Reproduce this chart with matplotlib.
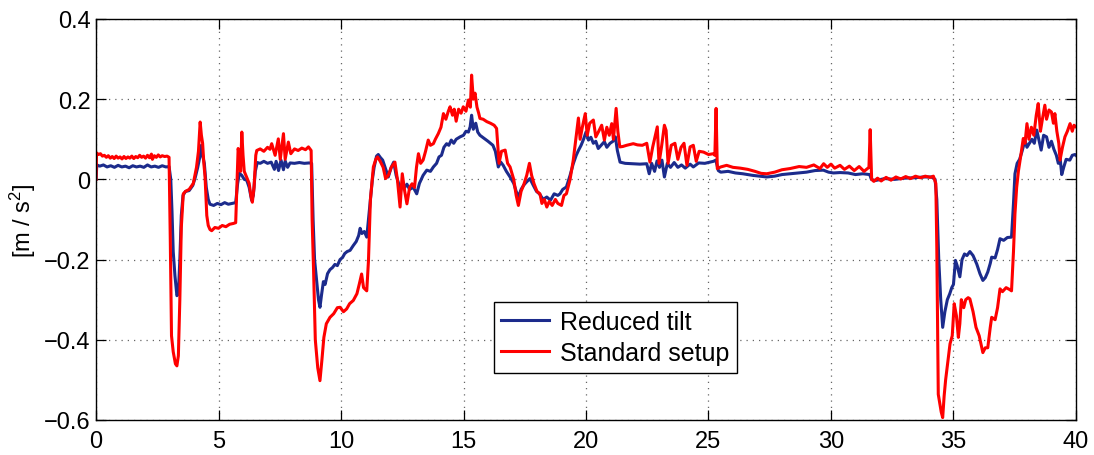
import numpy as np
import matplotlib
matplotlib.use('Agg')
import matplotlib.pyplot as plt
from matplotlib.ticker import MultipleLocator, FuncFormatter

plt.rcParams['font.family'] = ['Liberation Sans', 'DejaVu Sans']
plt.rcParams['mathtext.default'] = 'regular'

# Reduced tilt: time [s] and acceleration [m/s^2]
t_reduced = [
    0.00, 0.03, 0.15, 0.30, 0.45, 0.60, 0.75, 0.90, 1.05, 1.20, 1.35, 1.50, 1.65, 1.80, 1.95,
    2.10, 2.25, 2.40, 2.55, 2.70, 2.85, 2.98, 3.05, 3.10, 3.15, 3.22, 3.30, 3.36, 3.42, 3.48,
    3.55, 3.65, 3.80, 3.95, 4.05, 4.15, 4.25, 4.30, 4.35, 4.42, 4.50, 4.58, 4.65, 4.80, 4.95,
    5.10, 5.25, 5.40, 5.55, 5.70, 5.78, 5.85, 5.95, 6.05, 6.15, 6.25, 6.35, 6.42, 6.50, 6.58,
    6.70, 6.85, 7.00, 7.15, 7.28, 7.35, 7.45, 7.55, 7.65, 7.72, 7.82, 7.92, 8.10, 8.30, 8.50,
    8.70, 8.80, 8.86, 8.92, 9.00, 9.08, 9.14, 9.20, 9.28, 9.35, 9.45, 9.55, 9.65, 9.75, 9.85,
    9.96, 10.06, 10.15, 10.25, 10.37, 10.50, 10.62, 10.72, 10.78, 10.85, 10.95, 11.05, 11.12,
    11.20, 11.28, 11.35, 11.45, 11.52, 11.60, 11.70, 11.80, 11.93, 12.05, 12.15, 12.25, 12.35,
    12.41, 12.50, 12.60, 12.69, 12.80, 12.95, 13.09, 13.20, 13.35, 13.50, 13.65, 13.77, 13.90,
    14.00, 14.10, 14.20, 14.31, 14.40, 14.50, 14.60, 14.70, 14.86, 15.00, 15.10, 15.20, 15.27,
    15.33, 15.40, 15.50, 15.58, 15.67, 15.85, 16.00, 16.20, 16.30, 16.42, 16.52, 16.62, 16.75,
    16.90, 17.05, 17.15, 17.24, 17.35, 17.45, 17.55, 17.71, 17.85, 17.98, 18.10, 18.25, 18.40,
    18.55, 18.70, 18.85, 18.94, 19.05, 19.20, 19.35, 19.48, 19.60, 19.69, 19.80, 19.90, 20.00,
    20.10, 20.20, 20.30, 20.40, 20.50, 20.62, 20.75, 20.85, 20.98, 21.10, 21.20, 21.28, 21.39,
    21.60, 21.90, 22.20, 22.48, 22.58, 22.68, 22.80, 22.90, 23.00, 23.10, 23.20, 23.32, 23.45,
    23.60, 23.75, 23.90, 24.05, 24.25, 24.38, 24.60, 24.85, 25.05, 25.20, 25.30, 25.40, 25.50,
    25.80, 26.10, 26.40, 26.80, 27.10, 27.38, 27.70, 28.00, 28.33, 28.70, 29.00, 29.35, 29.69,
    29.90, 30.10, 30.37, 30.70, 31.00, 31.30, 31.58, 31.65, 31.80, 32.20, 32.60, 33.00, 33.40,
    33.80, 34.10, 34.25, 34.32, 34.40, 34.48, 34.56, 34.65, 34.75, 34.85, 34.93, 35.00, 35.08,
    35.15, 35.26, 35.35, 35.45, 35.55, 35.67, 35.80, 35.95, 36.08, 36.20, 36.30, 36.40, 36.50,
    36.56, 36.70, 36.80, 36.90, 37.05, 37.20, 37.37, 37.45, 37.51, 37.60, 37.70, 37.80, 37.92,
    38.00, 38.10, 38.20, 38.30, 38.40, 38.50, 38.58, 38.68, 38.80, 38.90, 39.00, 39.10, 39.20,
    39.28, 39.35, 39.42, 39.50, 39.60, 39.75, 39.85, 39.96, 40.00,
]
a_reduced = [
    0.000, 0.036, 0.033, 0.036, 0.031, 0.034, 0.030, 0.035, 0.031, 0.033, 0.029, 0.034, 0.031, 0.033, 0.030,
    0.036, 0.031, 0.033, 0.030, 0.034, 0.031, 0.032, 0.000, -0.080, -0.180, -0.240, -0.290, -0.285, -0.200, -0.090,
    -0.040, -0.030, -0.028, -0.015, 0.005, 0.030, 0.060, 0.085, 0.060, 0.040, -0.020, -0.050, -0.062, -0.065, -0.060,
    -0.063, -0.058, -0.062, -0.060, -0.058, -0.010, 0.015, 0.010, 0.000, -0.002, -0.020, -0.052, -0.040, 0.020, 0.042,
    0.040, 0.045, 0.040, 0.043, 0.025, 0.045, 0.022, 0.048, 0.024, 0.046, 0.030, 0.041, 0.040, 0.042, 0.040,
    0.041, 0.040, -0.100, -0.200, -0.250, -0.300, -0.319, -0.290, -0.255, -0.262, -0.235, -0.225, -0.220, -0.212, -0.215,
    -0.200, -0.195, -0.185, -0.180, -0.177, -0.165, -0.155, -0.140, -0.122, -0.135, -0.130, -0.144, -0.100,
    -0.050, 0.000, 0.030, 0.058, 0.062, 0.055, 0.048, 0.030, 0.006, 0.030, 0.043, 0.010, -0.010,
    -0.036, -0.010, -0.020, -0.012, -0.025, -0.020, -0.036, -0.010, 0.010, 0.023, 0.020, 0.031, 0.040,
    0.056, 0.060, 0.080, 0.089, 0.085, 0.098, 0.090, 0.100, 0.106, 0.110, 0.120, 0.118, 0.131,
    0.160, 0.125, 0.140, 0.118, 0.110, 0.102, 0.095, 0.085, 0.070, 0.031, 0.043, 0.035, 0.020,
    0.006, -0.010, -0.030, -0.044, -0.025, -0.015, -0.008, 0.002, -0.015, -0.030, -0.036, -0.050, -0.044,
    -0.052, -0.036, -0.040, -0.036, -0.025, -0.019, 0.010, 0.039, 0.060, 0.072, 0.085, 0.100, 0.118,
    0.098, 0.105, 0.090, 0.095, 0.077, 0.085, 0.094, 0.080, 0.090, 0.095, 0.106, 0.072, 0.043,
    0.040, 0.039, 0.038, 0.039, 0.014, 0.040, 0.020, 0.046, 0.030, 0.048, 0.006, 0.040, 0.030,
    0.042, 0.030, 0.036, 0.028, 0.038, 0.031, 0.041, 0.040, 0.043, 0.045, 0.048, 0.022, 0.018,
    0.020, 0.016, 0.014, 0.010, 0.008, 0.006, 0.008, 0.012, 0.014, 0.016, 0.018, 0.022, 0.023,
    0.018, 0.016, 0.017, 0.016, 0.012, 0.014, 0.012, 0.000, -0.003, 0.002, 0.000, 0.003, 0.004,
    0.006, 0.006, 0.000, -0.050, -0.200, -0.300, -0.369, -0.330, -0.300, -0.285, -0.270, -0.262, -0.202,
    -0.215, -0.243, -0.200, -0.186, -0.190, -0.180, -0.190, -0.211, -0.235, -0.252, -0.245, -0.231, -0.210,
    -0.194, -0.196, -0.175, -0.148, -0.152, -0.145, -0.144, -0.060, 0.014, 0.040, 0.050, 0.070, 0.098,
    0.080, 0.090, 0.100, 0.090, 0.123, 0.095, 0.073, 0.110, 0.106, 0.080, 0.095, 0.075, 0.060,
    0.040, 0.055, 0.012, 0.030, 0.050, 0.048, 0.060, 0.062, 0.060,
]

# Standard setup
t_standard = [
    0.00, 0.02, 0.10, 0.18, 0.26, 0.34, 0.42, 0.50, 0.58, 0.66, 0.74, 0.82, 0.90, 0.98, 1.06,
    1.14, 1.22, 1.30, 1.38, 1.46, 1.54, 1.62, 1.70, 1.78, 1.86, 1.94, 2.02, 2.10, 2.18, 2.26,
    2.30, 2.38, 2.46, 2.54, 2.62, 2.70, 2.80, 2.90, 2.98, 3.03, 3.08, 3.15, 3.24, 3.30, 3.36,
    3.42, 3.48, 3.56, 3.65, 3.80, 3.97, 4.10, 4.18, 4.25, 4.30, 4.35, 4.40, 4.45, 4.52, 4.58,
    4.65, 4.72, 4.85, 5.00, 5.15, 5.30, 5.45, 5.60, 5.70, 5.76, 5.80, 5.85, 5.90, 5.95, 6.00,
    6.05, 6.15, 6.25, 6.32, 6.38, 6.45, 6.52, 6.56, 6.70, 6.85, 7.00, 7.10, 7.17, 7.31, 7.44,
    7.52, 7.65, 7.72, 7.85, 7.95, 8.10, 8.25, 8.40, 8.55, 8.67, 8.78, 8.82, 8.88, 8.95, 9.05,
    9.14, 9.22, 9.30, 9.40, 9.55, 9.70, 9.85, 9.96, 10.10, 10.23, 10.35, 10.50, 10.65, 10.75,
    10.84, 10.92, 11.05, 11.12, 11.20, 11.32, 11.42, 11.49, 11.60, 11.72, 11.82, 11.93, 12.05,
    12.20, 12.30, 12.41, 12.50, 12.60, 12.69, 12.80, 12.90, 13.00, 13.08, 13.16, 13.25, 13.35,
    13.45, 13.56, 13.65, 13.77, 13.85, 13.97, 14.08, 14.18, 14.28, 14.38, 14.45, 14.55, 14.62,
    14.70, 14.80, 14.90, 14.99, 15.10, 15.20, 15.28, 15.33, 15.40, 15.47, 15.55, 15.62, 15.67,
    15.80, 15.95, 16.10, 16.25, 16.35, 16.45, 16.55, 16.70, 16.80, 16.90, 17.05, 17.15, 17.24,
    17.35, 17.45, 17.58, 17.69, 17.78, 17.88, 18.00, 18.12, 18.20, 18.30, 18.40, 18.50, 18.62,
    18.75, 18.85, 19.00, 19.10, 19.20, 19.35, 19.48, 19.58, 19.69, 19.76, 19.85, 19.97, 20.05,
    20.15, 20.30, 20.40, 20.52, 20.64, 20.75, 20.85, 20.95, 21.05, 21.12, 21.23, 21.30, 21.38,
    21.50, 21.66, 21.93, 22.10, 22.30, 22.48, 22.61, 22.72, 22.91, 22.98, 23.08, 23.20, 23.27,
    23.35, 23.48, 23.63, 23.75, 23.88, 24.00, 24.12, 24.25, 24.38, 24.50, 24.62, 24.80, 25.00,
    25.20, 25.26, 25.31, 25.36, 25.50, 25.74, 26.00, 26.30, 26.60, 26.90, 27.15, 27.38, 27.70,
    28.00, 28.33, 28.70, 29.00, 29.30, 29.55, 29.70, 29.85, 30.00, 30.15, 30.37, 30.55, 30.75,
    30.95, 31.15, 31.35, 31.55, 31.60, 31.66, 31.75, 31.90, 32.05, 32.25, 32.45, 32.65, 32.85,
    33.05, 33.25, 33.45, 33.65, 33.85, 34.05, 34.18, 34.28, 34.32, 34.38, 34.50, 34.56, 34.62,
    34.68, 34.78, 34.86, 34.95, 35.03, 35.12, 35.20, 35.26, 35.32, 35.42, 35.50, 35.60, 35.67,
    35.80, 35.92, 36.05, 36.20, 36.30, 36.40, 36.50, 36.56, 36.70, 36.80, 36.90, 37.00, 37.15,
    37.30, 37.37, 37.45, 37.51, 37.58, 37.65, 37.75, 37.85, 37.92, 38.00, 38.08, 38.18, 38.28,
    38.38, 38.46, 38.55, 38.63, 38.73, 38.80, 38.90, 39.00, 39.08, 39.14, 39.22, 39.30, 39.35,
    39.45, 39.55, 39.65, 39.76, 39.85, 39.92, 40.00,
]
a_standard = [
    0.000, 0.066, 0.062, 0.064, 0.058, 0.060, 0.055, 0.059, 0.053, 0.057, 0.052, 0.058, 0.053, 0.056, 0.051,
    0.057, 0.052, 0.056, 0.053, 0.058, 0.052, 0.057, 0.054, 0.060, 0.055, 0.058, 0.053, 0.060, 0.054, 0.063,
    0.050, 0.059, 0.055, 0.061, 0.056, 0.059, 0.057, 0.058, 0.055, -0.150, -0.390, -0.430, -0.460, -0.465, -0.440,
    -0.300, -0.120, -0.036, -0.030, -0.025, -0.010, 0.030, 0.070, 0.143, 0.110, 0.090, 0.040, 0.006, -0.090, -0.115,
    -0.125, -0.128, -0.120, -0.122, -0.115, -0.118, -0.112, -0.110, -0.108, 0.000, 0.077, 0.060, 0.020, 0.118, 0.060,
    0.020, 0.005, -0.010, -0.040, -0.057, -0.020, 0.060, 0.072, 0.076, 0.070, 0.080, 0.075, 0.089, 0.060, 0.101,
    0.050, 0.114, 0.050, 0.093, 0.064, 0.076, 0.072, 0.078, 0.074, 0.081, 0.072, -0.100, -0.228, -0.400, -0.470,
    -0.502, -0.450, -0.394, -0.360, -0.344, -0.335, -0.320, -0.319, -0.330, -0.323, -0.310, -0.302, -0.285, -0.260,
    -0.236, -0.270, -0.278, -0.203, -0.050, 0.031, 0.050, 0.056, 0.045, 0.030, 0.002, 0.010, 0.030,
    0.043, 0.000, -0.069, 0.014, -0.030, -0.061, -0.020, -0.011, -0.020, 0.030, 0.064, 0.040, 0.048,
    0.070, 0.098, 0.085, 0.089, 0.100, 0.114, 0.130, 0.164, 0.150, 0.170, 0.181, 0.160, 0.175,
    0.145, 0.175, 0.165, 0.181, 0.170, 0.198, 0.180, 0.260, 0.200, 0.215, 0.180, 0.165, 0.152,
    0.150, 0.144, 0.140, 0.135, 0.127, 0.040, 0.070, 0.073, 0.040, 0.031, 0.000, -0.040, -0.065,
    -0.030, -0.015, 0.010, 0.040, 0.010, -0.011, -0.030, -0.036, -0.060, -0.050, -0.069, -0.055, -0.065,
    -0.050, -0.060, -0.065, -0.040, -0.036, 0.000, 0.048, 0.098, 0.153, 0.100, 0.130, 0.164, 0.110,
    0.140, 0.148, 0.106, 0.120, 0.135, 0.098, 0.130, 0.110, 0.139, 0.100, 0.177, 0.120, 0.081,
    0.082, 0.085, 0.089, 0.086, 0.085, 0.090, 0.043, 0.080, 0.131, 0.040, 0.080, 0.135, 0.122,
    0.040, 0.085, 0.090, 0.050, 0.080, 0.090, 0.035, 0.081, 0.085, 0.045, 0.070, 0.068, 0.062,
    0.064, 0.060, 0.177, 0.027, 0.031, 0.035, 0.030, 0.028, 0.025, 0.020, 0.015, 0.014, 0.018,
    0.024, 0.027, 0.032, 0.030, 0.036, 0.027, 0.039, 0.030, 0.038, 0.028, 0.035, 0.025, 0.033,
    0.022, 0.032, 0.020, 0.030, 0.124, 0.000, -0.005, 0.003, -0.004, 0.005, -0.002, 0.006, 0.001,
    0.007, 0.002, 0.008, 0.004, 0.008, 0.005, 0.008, -0.010, -0.170, -0.536, -0.580, -0.594, -0.540,
    -0.500, -0.450, -0.410, -0.390, -0.310, -0.340, -0.394, -0.360, -0.300, -0.320, -0.300, -0.295, -0.298,
    -0.330, -0.369, -0.390, -0.432, -0.420, -0.420, -0.370, -0.344, -0.350, -0.320, -0.273, -0.280, -0.270,
    -0.275, -0.278, -0.180, -0.086, -0.020, 0.020, 0.060, 0.102, 0.090, 0.139, 0.100, 0.130, 0.110,
    0.160, 0.189, 0.120, 0.150, 0.185, 0.150, 0.173, 0.168, 0.140, 0.164, 0.120, 0.090, 0.048,
    0.080, 0.106, 0.120, 0.139, 0.120, 0.135, 0.131,
]

fig = plt.figure(figsize=(10.94, 4.56), dpi=100)
ax = fig.add_axes([0.0878, 0.0768, 0.8957, 0.8794])

ax.plot(t_reduced, a_reduced, color='#1c2b8c', lw=2.2, label='Reduced tilt')
ax.plot(t_standard, a_standard, color='#ff0000', lw=2.2, label='Standard setup')

ax.set_xlim(0, 40)
ax.set_ylim(-0.6, 0.4)
ax.xaxis.set_major_locator(MultipleLocator(5))
ax.yaxis.set_major_locator(MultipleLocator(0.2))

def fmt(v, pos):
    s = '%g' % round(v, 3)
    return s.replace('-', '\u2212')

ax.xaxis.set_major_formatter(FuncFormatter(fmt))
ax.yaxis.set_major_formatter(FuncFormatter(fmt))

ax.grid(True, color='#666666', linestyle=(0, (1, 4)), linewidth=0.9)
ax.tick_params(direction='in', length=7, width=0.9, labelsize=17,
               top=True, right=True)
ax.tick_params(axis='x', pad=7)
ax.tick_params(axis='y', pad=4)
for sp in ax.spines.values():
    sp.set_linewidth(1.0)

ax.set_ylabel('[m / s$^2$]', fontsize=17, labelpad=4)

leg = ax.legend(loc='upper left', bbox_to_anchor=(0.406, 0.294), fontsize=18,
                fancybox=False, framealpha=1, edgecolor='black',
                handlelength=1.9, borderpad=0.3, labelspacing=0.3,
                handletextpad=0.45, borderaxespad=0)
leg.get_frame().set_linewidth(1.0)

fig.savefig('out.png', dpi=100)
